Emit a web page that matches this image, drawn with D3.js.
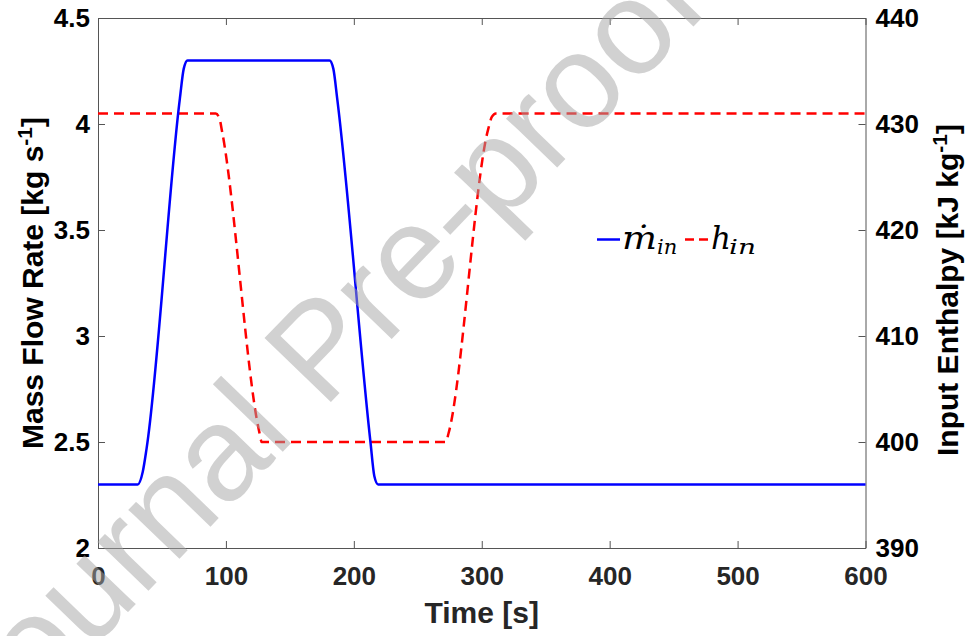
<!DOCTYPE html>
<meta charset="utf-8">
<head>
<style>
body { margin: 0; background: #fff; }
.axis path, .axis line { stroke: #555; }
.tick text {
  font-family: "Liberation Sans", Arial, sans-serif;
  font-weight: bold;
  font-size: 26px;
}
.axis--x .tick text { fill: #262626; }
.axis--y .tick text { fill: #000; }
.label {
  font-family: "Liberation Sans", Arial, sans-serif;
  font-weight: bold;
  font-size: 30px;
  text-anchor: middle;
}
.legend text {
  font-family: "DejaVu Serif", serif;
  font-style: italic;
  fill: #000;
}
.watermark {
  font-family: "Liberation Sans", Arial, sans-serif;
  font-size: 134px;
  fill: #a4a4a4;
  fill-opacity: .5;
}
</style>
</head>
<body>

<svg width="972" height="636"></svg>

<script src="https://cdn.jsdelivr.net/npm/d3@7/dist/d3.min.js"></script>
<script>

// mass flow rate (kg/s)
var flowTime = [0, 31, 35, 38, 64, 67, 70, 181, 184, 187, 213, 216, 219, 600],
    flowRate = [2.3, 2.3, 2.36, 2.47, 4.12, 4.26, 4.3, 4.3, 4.26, 4.12, 2.5, 2.34, 2.3, 2.3];

// input enthalpy (kJ/kg)
var enthTime = [0, 92, 95, 97, 126, 128, 272, 274, 305, 308, 311, 600],
    enthalpy = [431, 431, 430.5, 429.3, 401, 400, 400, 400.8, 429.5, 430.7, 431, 431];

var timeTicks = [0, 100, 200, 300, 400, 500, 600],
    flowTicks = [2, 2.5, 3, 3.5, 4, 4.5],
    enthTicks = [390, 400, 410, 420, 430, 440];

var svg = d3.select("svg"),
    x0 = 98, x1 = 865.5, y0 = 18, y1 = 548;

var x = d3.scaleLinear().domain([0, 600]).range([x0, x1]),
    yL = d3.scaleLinear().domain([2, 4.5]).range([y1, y0]),
    yR = d3.scaleLinear().domain([390, 440]).range([y1, y0]);

svg.append("g")
    .attr("class", "axis axis--x")
    .attr("transform", "translate(0," + y1 + ")")
    .call(d3.axisBottom(x).tickValues(timeTicks).tickSizeInner(-7).tickSizeOuter(0).tickPadding(19));

svg.append("g")
    .attr("class", "axis axis--x")
    .attr("transform", "translate(0," + y0 + ")")
    .call(d3.axisTop(x).tickValues(timeTicks).tickSizeInner(-7).tickSizeOuter(0).tickFormat(""));

svg.append("g")
    .attr("class", "axis axis--y")
    .attr("transform", "translate(" + x0 + ",0)")
    .call(d3.axisLeft(yL).tickValues(flowTicks).tickSizeInner(-7).tickSizeOuter(0).tickPadding(8)
      .tickFormat(function(d) { return d; }));

svg.append("g")
    .attr("class", "axis axis--y")
    .attr("transform", "translate(" + x1 + ",0)")
    .call(d3.axisRight(yR).tickValues(enthTicks).tickSizeInner(-7).tickSizeOuter(0).tickPadding(10));

svg.selectAll(".axis").attr("font-family", null).attr("font-size", null);

// curves
var flowLine = d3.line()
    .x(function(d, i) { return x(flowTime[i]); })
    .y(function(d) { return yL(d); })
    .curve(d3.curveMonotoneX);

var enthLine = d3.line()
    .x(function(d, i) { return x(enthTime[i]); })
    .y(function(d) { return yR(d); })
    .curve(d3.curveMonotoneX);

svg.append("path")
    .attr("d", enthLine(enthalpy))
    .attr("fill", "none")
    .attr("stroke", "#ff0000")
    .attr("stroke-width", 2.5)
    .attr("stroke-dasharray", "10,6");

svg.append("path")
    .attr("d", flowLine(flowRate))
    .attr("fill", "none")
    .attr("stroke", "#0000ff")
    .attr("stroke-width", 2.5);

// axis labels
svg.append("text")
    .attr("class", "label")
    .attr("fill", "#262626")
    .attr("x", (x0 + x1) / 2)
    .attr("y", 623)
    .text("Time [s]");

var ll = svg.append("text")
    .attr("class", "label")
    .attr("transform", "translate(43,283) rotate(-90)");
ll.append("tspan").text("Mass Flow Rate [kg s");
ll.append("tspan").attr("dy", -11).attr("font-size", "21px").text("-1");
ll.append("tspan").attr("dy", 11).text("]");

var rl = svg.append("text")
    .attr("class", "label")
    .attr("transform", "translate(958,290) rotate(-90)");
rl.append("tspan").text("Input Enthalpy [kJ kg");
rl.append("tspan").attr("dy", -11).attr("font-size", "21px").text("-1");
rl.append("tspan").attr("dy", 11).text("]");

// legend
var legend = svg.append("g").attr("class", "legend");

legend.append("line")
    .attr("x1", 597).attr("x2", 620)
    .attr("y1", 239.5).attr("y2", 239.5)
    .attr("stroke", "#0000ff").attr("stroke-width", 2.5);

legend.append("text")
    .attr("x", 622).attr("y", 249)
    .attr("font-size", "31px")
    .attr("textLength", 35).attr("lengthAdjust", "spacingAndGlyphs")
    .text("\u1E41");
legend.append("text")
    .attr("x", 657).attr("y", 254)
    .attr("font-size", "21px")
    .text("in");

legend.append("line")
    .attr("x1", 685).attr("x2", 709)
    .attr("y1", 239.5).attr("y2", 239.5)
    .attr("stroke", "#ff0000").attr("stroke-width", 2.5)
    .attr("stroke-dasharray", "9,5");

legend.append("text")
    .attr("x", 711).attr("y", 249)
    .attr("font-size", "31px")
    .text("h");
legend.append("text")
    .attr("x", 729).attr("y", 254)
    .attr("font-size", "21px")
    .attr("textLength", 27).attr("lengthAdjust", "spacingAndGlyphs")
    .text("in");

// watermark on top of everything
svg.append("text")
    .attr("class", "watermark")
    .attr("transform", "translate(-8,753) rotate(-46)")
    .text("Journal Pre-proof");

</script>
</body>
